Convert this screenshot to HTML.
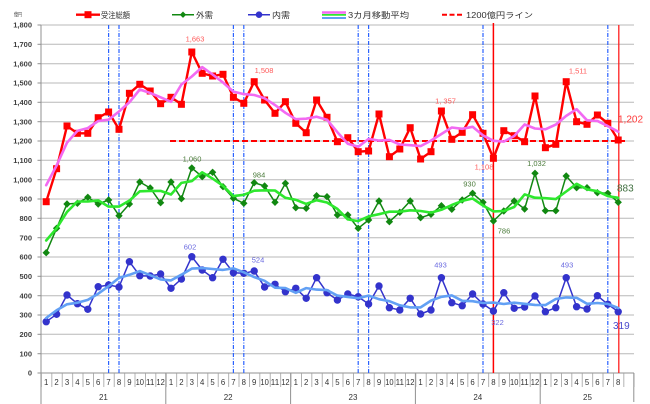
<!DOCTYPE html>
<html><head><meta charset="utf-8"><style>
html,body{margin:0;padding:0;background:#fff;}
svg{display:block;font-family:"Liberation Sans","Noto Sans CJK JP",sans-serif;}
</style></head><body>
<svg width="650" height="404" viewBox="0 0 650 404" xmlns="http://www.w3.org/2000/svg">
<defs>
<marker id="sq" markerWidth="8" markerHeight="8" refX="4" refY="4" markerUnits="userSpaceOnUse"><rect x="0.5" y="0.5" width="7" height="7" fill="#ff0000"/></marker>
<marker id="dm" markerWidth="8" markerHeight="8" refX="4" refY="4" markerUnits="userSpaceOnUse"><path d="M4 0.3 L7.7 4 L4 7.7 L0.3 4Z" fill="#118811"/></marker>
<marker id="ci" markerWidth="8" markerHeight="8" refX="4" refY="4" markerUnits="userSpaceOnUse"><circle cx="4" cy="4" r="3.7" fill="#3333cc"/></marker>
<pattern id="sep" patternUnits="userSpaceOnUse" x="41" y="373" width="10.4" height="14"><rect x="0" y="0" width="0.8" height="14" fill="#a0a0a0"/></pattern>
</defs>
<rect width="650" height="404" fill="#fff"/>
<g stroke="#b8b8b8" stroke-width="1">
<line x1="41" y1="25" x2="634" y2="25"/><line x1="41" y1="44.3" x2="634" y2="44.3"/><line x1="41" y1="63.7" x2="634" y2="63.7"/><line x1="41" y1="83" x2="634" y2="83"/><line x1="41" y1="102.3" x2="634" y2="102.3"/><line x1="41" y1="121.7" x2="634" y2="121.7"/><line x1="41" y1="141" x2="634" y2="141"/><line x1="41" y1="160.3" x2="634" y2="160.3"/><line x1="41" y1="179.7" x2="634" y2="179.7"/><line x1="41" y1="199" x2="634" y2="199"/><line x1="41" y1="218.3" x2="634" y2="218.3"/><line x1="41" y1="237.7" x2="634" y2="237.7"/><line x1="41" y1="257" x2="634" y2="257"/><line x1="41" y1="276.3" x2="634" y2="276.3"/><line x1="41" y1="295.7" x2="634" y2="295.7"/><line x1="41" y1="315" x2="634" y2="315"/><line x1="41" y1="334.3" x2="634" y2="334.3"/><line x1="41" y1="353.7" x2="634" y2="353.7"/>
</g>
<g stroke="#909090" stroke-width="1">
<line x1="37.5" y1="25" x2="41" y2="25"/><line x1="37.5" y1="44.3" x2="41" y2="44.3"/><line x1="37.5" y1="63.7" x2="41" y2="63.7"/><line x1="37.5" y1="83" x2="41" y2="83"/><line x1="37.5" y1="102.3" x2="41" y2="102.3"/><line x1="37.5" y1="121.7" x2="41" y2="121.7"/><line x1="37.5" y1="141" x2="41" y2="141"/><line x1="37.5" y1="160.3" x2="41" y2="160.3"/><line x1="37.5" y1="179.7" x2="41" y2="179.7"/><line x1="37.5" y1="199" x2="41" y2="199"/><line x1="37.5" y1="218.3" x2="41" y2="218.3"/><line x1="37.5" y1="237.7" x2="41" y2="237.7"/><line x1="37.5" y1="257" x2="41" y2="257"/><line x1="37.5" y1="276.3" x2="41" y2="276.3"/><line x1="37.5" y1="295.7" x2="41" y2="295.7"/><line x1="37.5" y1="315" x2="41" y2="315"/><line x1="37.5" y1="334.3" x2="41" y2="334.3"/><line x1="37.5" y1="353.7" x2="41" y2="353.7"/><line x1="37.5" y1="373" x2="41" y2="373"/>
<line x1="41" y1="25" x2="41" y2="404"/>
<line x1="41" y1="373" x2="634" y2="373"/>
<line x1="165.8" y1="373" x2="165.8" y2="404"/><line x1="290.6" y1="373" x2="290.6" y2="404"/><line x1="415.4" y1="373" x2="415.4" y2="404"/><line x1="540.2" y1="373" x2="540.2" y2="404"/><line x1="633.8" y1="373" x2="633.8" y2="402"/>
</g>
<rect x="41" y="373" width="593.6" height="14" fill="url(#sep)"/>
<g font-size="7.5" font-weight="bold" fill="#404040" text-anchor="end">
<text x="32" y="27.7">1,800</text><text x="32" y="47">1,700</text><text x="32" y="66.4">1,600</text><text x="32" y="85.7">1,500</text><text x="32" y="105">1,400</text><text x="32" y="124.4">1,300</text><text x="32" y="143.7">1,200</text><text x="32" y="163">1,100</text><text x="32" y="182.4">1,000</text><text x="32" y="201.7">900</text><text x="32" y="221">800</text><text x="32" y="240.4">700</text><text x="32" y="259.7">600</text><text x="32" y="279">500</text><text x="32" y="298.4">400</text><text x="32" y="317.7">300</text><text x="32" y="337">200</text><text x="32" y="356.4">100</text><text x="32" y="375.7">0</text>
</g>
<text x="14" y="16.5" font-size="5.5" fill="#404040" textLength="8" lengthAdjust="spacingAndGlyphs">億円</text>
<g font-size="7.8" fill="#333" text-anchor="middle">
<text x="46.2" y="384.8">1</text><text x="56.6" y="384.8">2</text><text x="67" y="384.8">3</text><text x="77.4" y="384.8">4</text><text x="87.8" y="384.8">5</text><text x="98.2" y="384.8">6</text><text x="108.6" y="384.8">7</text><text x="119" y="384.8">8</text><text x="129.4" y="384.8">9</text><text x="139.8" y="384.8" textLength="8.4" lengthAdjust="spacingAndGlyphs">10</text><text x="150.2" y="384.8" textLength="8.4" lengthAdjust="spacingAndGlyphs">11</text><text x="160.6" y="384.8" textLength="8.4" lengthAdjust="spacingAndGlyphs">12</text>
<text x="171" y="384.8">1</text><text x="181.4" y="384.8">2</text><text x="191.8" y="384.8">3</text><text x="202.2" y="384.8">4</text><text x="212.6" y="384.8">5</text><text x="223" y="384.8">6</text><text x="233.4" y="384.8">7</text><text x="243.8" y="384.8">8</text><text x="254.2" y="384.8">9</text><text x="264.6" y="384.8" textLength="8.4" lengthAdjust="spacingAndGlyphs">10</text><text x="275" y="384.8" textLength="8.4" lengthAdjust="spacingAndGlyphs">11</text><text x="285.4" y="384.8" textLength="8.4" lengthAdjust="spacingAndGlyphs">12</text>
<text x="295.8" y="384.8">1</text><text x="306.2" y="384.8">2</text><text x="316.6" y="384.8">3</text><text x="327" y="384.8">4</text><text x="337.4" y="384.8">5</text><text x="347.8" y="384.8">6</text><text x="358.2" y="384.8">7</text><text x="368.6" y="384.8">8</text><text x="379" y="384.8">9</text><text x="389.4" y="384.8" textLength="8.4" lengthAdjust="spacingAndGlyphs">10</text><text x="399.8" y="384.8" textLength="8.4" lengthAdjust="spacingAndGlyphs">11</text><text x="410.2" y="384.8" textLength="8.4" lengthAdjust="spacingAndGlyphs">12</text>
<text x="420.6" y="384.8">1</text><text x="431" y="384.8">2</text><text x="441.4" y="384.8">3</text><text x="451.8" y="384.8">4</text><text x="462.2" y="384.8">5</text><text x="472.6" y="384.8">6</text><text x="483" y="384.8">7</text><text x="493.4" y="384.8">8</text><text x="503.8" y="384.8">9</text><text x="514.2" y="384.8" textLength="8.4" lengthAdjust="spacingAndGlyphs">10</text><text x="524.6" y="384.8" textLength="8.4" lengthAdjust="spacingAndGlyphs">11</text><text x="535" y="384.8" textLength="8.4" lengthAdjust="spacingAndGlyphs">12</text>
<text x="545.4" y="384.8">1</text><text x="555.8" y="384.8">2</text><text x="566.2" y="384.8">3</text><text x="576.6" y="384.8">4</text><text x="587" y="384.8">5</text><text x="597.4" y="384.8">6</text><text x="607.8" y="384.8">7</text><text x="618.2" y="384.8">8</text>
</g>
<g font-size="8" fill="#333" text-anchor="middle">
<text x="103.4" y="400">21</text><text x="228.2" y="400">22</text><text x="353" y="400">23</text><text x="477.8" y="400">24</text><text x="587.5" y="400">25</text>
</g>
<g stroke="#2a62ff" stroke-width="1.2" stroke-dasharray="4 1.5 1 1.5" fill="none">
<line x1="108.6" y1="25" x2="108.6" y2="373"/><line x1="119" y1="25" x2="119" y2="373"/><line x1="233.4" y1="25" x2="233.4" y2="373"/><line x1="243.8" y1="25" x2="243.8" y2="373"/><line x1="358.2" y1="25" x2="358.2" y2="373"/><line x1="368.6" y1="25" x2="368.6" y2="373"/><line x1="483" y1="25" x2="483" y2="373"/><line x1="607.8" y1="25" x2="607.8" y2="373"/>
</g>
<line x1="493.4" y1="23" x2="493.4" y2="373" stroke="#ff0000" stroke-width="1.5"/>
<line x1="618.8" y1="25" x2="618.8" y2="373" stroke="#ff2020" stroke-width="1.3"/>
<line x1="170" y1="141" x2="625" y2="141" stroke="#ff0000" stroke-width="2" stroke-dasharray="6 3"/>
<polyline fill="none" stroke="#ff0000" stroke-width="2.4" stroke-linejoin="round" marker-start="url(#sq)" marker-mid="url(#sq)" marker-end="url(#sq)" points="46.2,201.7 56.6,168.7 67,126 77.4,133.3 87.8,133.3 98.2,117.7 108.6,112 119,129.3 129.4,93.3 139.8,84.3 150.2,91 160.6,103.7 171,97.3 181.4,104.3 191.8,52 202.2,73.3 212.6,76 223,74.3 233.4,97.3 243.8,103.3 254.2,81.7 264.6,100 275,113.3 285.4,101.7 295.8,123.3 306.2,132.7 316.6,100 327,117.3 337.4,141.7 347.8,137.7 358.2,151.7 368.6,151 379,114 389.4,156.7 399.8,149 410.2,127.7 420.6,159 431,151.7 441.4,111 451.8,139.3 462.2,132.3 472.6,114.7 483,133.3 493.4,158.3 503.8,130.7 514.2,135.7 524.6,141.7 535,96 545.4,147.7 555.8,144.3 566.2,81.7 576.6,121.7 587,124.3 597.4,115 607.8,123.3 618.2,140"/>
<polyline fill="none" stroke="#118811" stroke-width="1.5" stroke-linejoin="round" marker-start="url(#dm)" marker-mid="url(#dm)" marker-end="url(#dm)" points="46.2,252.7 56.6,228.3 67,204 77.4,203.3 87.8,197.3 98.2,204 108.6,200 119,215.7 129.4,204 139.8,182 150.2,188 160.6,202.7 171,182 181.4,198.7 191.8,168 202.2,176.7 212.6,172.3 223,186.7 233.4,198.3 243.8,203.3 254.2,182.7 264.6,186 275,202.3 285.4,183.3 295.8,207.7 306.2,208.3 316.6,195.7 327,196.7 337.4,215 347.8,215 358.2,228.3 368.6,220 379,201 389.4,221.7 399.8,212.3 410.2,201 420.6,217.7 431,214.3 441.4,205.7 451.8,209.3 462.2,200 472.6,193.3 483,202.3 493.4,221 503.8,211 514.2,201 524.6,209 535,173.3 545.4,210.7 555.8,210.7 566.2,176 576.6,187.7 587,187.7 597.4,192.7 607.8,193.3 618.2,202.3"/>
<polyline fill="none" stroke="#3333cc" stroke-width="1.5" stroke-linejoin="round" marker-start="url(#ci)" marker-mid="url(#ci)" marker-end="url(#ci)" points="46.2,321.7 56.6,314.3 67,295 77.4,303.7 87.8,309.3 98.2,286.7 108.6,285 119,287 129.4,261.7 139.8,275.7 150.2,276 160.6,274 171,288.3 181.4,279 191.8,256.7 202.2,270 212.6,277.7 223,259.3 233.4,272.7 243.8,273.3 254.2,271 264.6,287 275,284.3 285.4,291.7 295.8,288.3 306.2,298.3 316.6,277.7 327,292.7 337.4,300 347.8,294 358.2,296.7 368.6,304 379,286 389.4,307.7 399.8,310 410.2,298.3 420.6,314 431,310 441.4,277.7 451.8,302.7 462.2,305.7 472.6,294 483,304 493.4,311 503.8,292.7 514.2,308.3 524.6,307 535,296 545.4,311.7 555.8,307.7 566.2,277.7 576.6,306.7 587,309 597.4,295.7 607.8,304.3 618.2,311.7"/>
<polyline fill="none" stroke="#f26af2" stroke-width="2.6" stroke-linejoin="round" stroke-linecap="round" points="46.2,185.2 56.6,165.5 67,142.7 77.4,130.9 87.8,128.1 98.2,121 108.6,119.7 119,111.5 129.4,102.3 139.8,89.5 150.2,93 160.6,97.3 171,101.8 181.4,84.5 191.8,76.5 202.2,67.1 212.6,74.5 223,82.5 233.4,91.6 243.8,94.1 254.2,95 264.6,98.3 275,105 285.4,112.8 295.8,119.2 306.2,118.7 316.6,116.7 327,119.7 337.4,132.2 347.8,143.7 358.2,146.8 368.6,138.9 379,140.6 389.4,139.9 399.8,144.5 410.2,145.2 420.6,146.1 431,140.6 441.4,134 451.8,127.5 462.2,128.8 472.6,126.8 483,135.4 493.4,140.8 503.8,141.6 514.2,136 524.6,124.5 535,128.5 545.4,129.3 555.8,124.6 566.2,115.9 576.6,109.2 587,120.3 597.4,120.9 607.8,126.1 618.2,131.7"/>
<polyline fill="none" stroke="#2ee82e" stroke-width="2.6" stroke-linejoin="round" stroke-linecap="round" points="46.2,240.5 56.6,228.3 67,211.9 77.4,201.5 87.8,201.5 98.2,200.4 108.6,206.6 119,206.6 129.4,200.6 139.8,191.3 150.2,190.9 160.6,190.9 171,194.5 181.4,182.9 191.8,181.1 202.2,172.3 212.6,178.6 223,185.8 233.4,196.1 243.8,194.8 254.2,190.7 264.6,190.3 275,190.5 285.4,197.8 295.8,199.8 306.2,203.9 316.6,200.2 327,202.5 337.4,208.9 347.8,219.4 358.2,221.1 368.6,216.4 379,214.2 389.4,211.7 399.8,211.7 410.2,210.3 420.6,211 431,212.6 441.4,209.8 451.8,205 462.2,200.9 472.6,198.5 483,205.5 493.4,211.4 503.8,211 514.2,207 524.6,194.4 535,197.7 545.4,198.2 555.8,199.1 566.2,191.5 576.6,183.8 587,189.4 597.4,191.2 607.8,196.1 618.2,197.8"/>
<polyline fill="none" stroke="#62a0f4" stroke-width="2.6" stroke-linejoin="round" stroke-linecap="round" points="46.2,318 56.6,310.3 67,304.3 77.4,302.7 87.8,299.9 98.2,293.7 108.6,286.2 119,277.9 129.4,274.8 139.8,271.1 150.2,275.2 160.6,279.4 171,280.4 181.4,274.7 191.8,268.6 202.2,268.1 212.6,269 223,269.9 233.4,268.4 243.8,272.3 254.2,277.1 264.6,280.8 275,287.7 285.4,288.1 295.8,292.8 306.2,288.1 316.6,289.6 327,290.1 337.4,295.6 347.8,296.9 358.2,298.2 368.6,295.6 379,299.2 389.4,301.2 399.8,305.3 410.2,307.4 420.6,307.4 431,300.6 441.4,296.8 451.8,295.4 462.2,300.8 472.6,301.2 483,303 493.4,302.6 503.8,304 514.2,302.7 524.6,303.8 535,304.9 545.4,305.1 555.8,299 566.2,297.4 576.6,297.8 587,303.8 597.4,303 607.8,303.9 618.2,308"/>
<g font-size="7.5" text-anchor="middle">
<text x="195" y="41.7" fill="#ff5a5a">1,663</text>
<text x="264" y="73" fill="#ff5a5a">1,508</text>
<text x="445.5" y="103.4" fill="#ff5a5a">1, 357</text>
<text x="578" y="73.4" fill="#ff5a5a">1,511</text>
<text x="484" y="169.4" fill="#ff5a5a">1,108</text>
<text x="192" y="161.7" fill="#4b7b3b">1,060</text>
<text x="259" y="177.4" fill="#4b7b3b">984</text>
<text x="469.5" y="186.7" fill="#4b7b3b">930</text>
<text x="536.5" y="166" fill="#4b7b3b">1,032</text>
<text x="504" y="233.7" fill="#4b7b3b">786</text>
<text x="190" y="249.4" fill="#6a6ae0">602</text>
<text x="258" y="262.7" fill="#6a6ae0">524</text>
<text x="440.5" y="267.7" fill="#6a6ae0">493</text>
<text x="567" y="267.7" fill="#6a6ae0">493</text>
<text x="497.5" y="325" fill="#6a6ae0">322</text>
</g>
<text x="618" y="122.5" font-size="10" fill="#ff3b3b">1,202</text>
<text x="617" y="191.5" font-size="10" fill="#3f6f3f">883</text>
<text x="613" y="329.2" font-size="10" fill="#4a4acc">319</text>
<line x1="76" y1="14.7" x2="100" y2="14.7" stroke="#ff0000" stroke-width="2.4"/>
<rect x="84.5" y="11.2" width="7" height="7" fill="#ff0000"/>
<text x="101" y="18" font-size="8" fill="#333" textLength="29" lengthAdjust="spacingAndGlyphs">受注総額</text>
<line x1="172" y1="14.7" x2="194" y2="14.7" stroke="#118811" stroke-width="1.5"/>
<path d="M183 11.5 L186.2 14.7 L183 17.9 L179.8 14.7Z" fill="#118811"/>
<text x="196" y="18" font-size="8" fill="#333" textLength="17" lengthAdjust="spacingAndGlyphs">外需</text>
<line x1="248" y1="14.7" x2="270" y2="14.7" stroke="#3333cc" stroke-width="1.5"/>
<circle cx="259" cy="14.7" r="3.3" fill="#3333cc"/>
<text x="272" y="18" font-size="8" fill="#333" textLength="18" lengthAdjust="spacingAndGlyphs">内需</text>
<line x1="322" y1="12.5" x2="346" y2="12.5" stroke="#f26af2" stroke-width="2.6"/>
<line x1="322" y1="14.9" x2="346" y2="14.9" stroke="#2ee82e" stroke-width="1.8"/>
<line x1="322" y1="18" x2="346" y2="18" stroke="#62a0f4" stroke-width="2"/>
<text x="348" y="18" font-size="8" fill="#333" textLength="61" lengthAdjust="spacingAndGlyphs">3カ月移動平均</text>
<line x1="442" y1="14.7" x2="464" y2="14.7" stroke="#ff0000" stroke-width="2" stroke-dasharray="5 2.5"/>
<text x="466" y="18" font-size="8" fill="#333" textLength="67" lengthAdjust="spacingAndGlyphs">1200億円ライン</text>
</svg>
</body></html>
